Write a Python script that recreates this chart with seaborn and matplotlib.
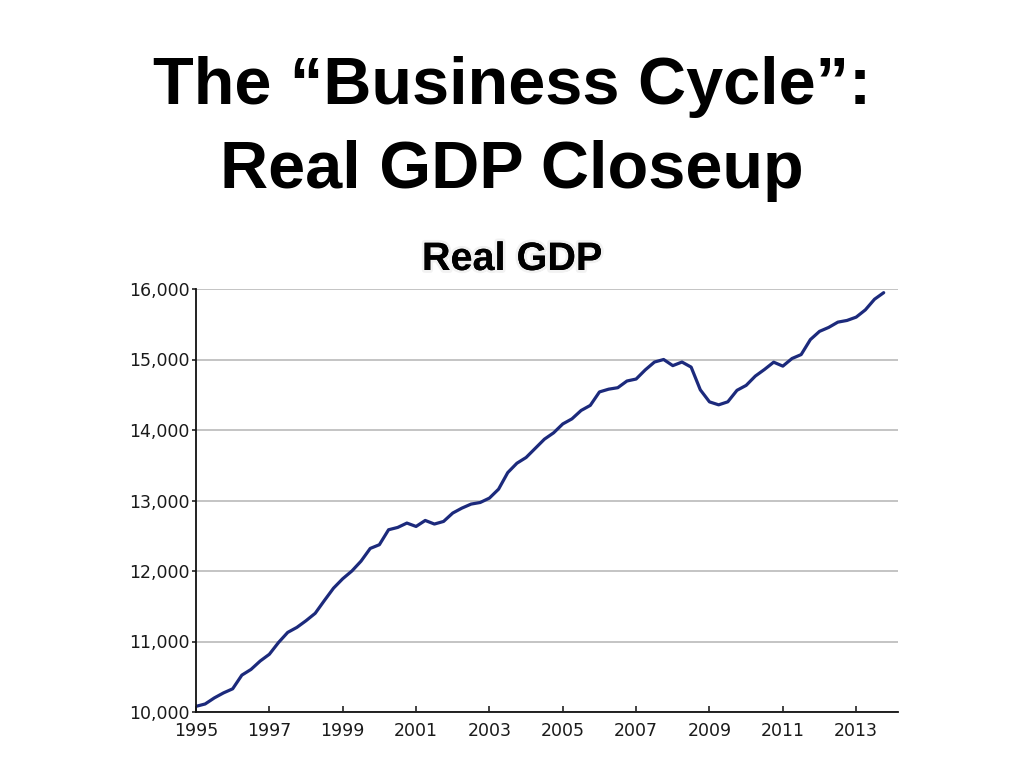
import matplotlib
matplotlib.use("Agg")
import matplotlib.pyplot as plt
import matplotlib.patheffects as pe
import seaborn as sns
import numpy as np
import pandas as pd

# Quarterly real GDP, 1995Q1 - 2013Q4
start_year = 1995
gdp_1995 = [10080, 10114, 10200, 10271]
gdp_1996 = [10329, 10523, 10604, 10723]
gdp_1997 = [10819, 10986, 11129, 11200]
gdp_1998 = [11295, 11400, 11581, 11757]
gdp_1999 = [11890, 12000, 12140, 12320]
gdp_2000 = [12373, 12585, 12618, 12680]
gdp_2001 = [12632, 12717, 12666, 12703]
gdp_2002 = [12822, 12892, 12949, 12972]
gdp_2003 = [13034, 13161, 13396, 13529]
gdp_2004 = [13610, 13740, 13870, 13960]
gdp_2005 = [14086, 14158, 14277, 14349]
gdp_2006 = [14540, 14579, 14600, 14695]
gdp_2007 = [14723, 14853, 14964, 15000]
gdp_2008 = [14913, 14964, 14892, 14570]
gdp_2009 = [14399, 14357, 14400, 14563]
gdp_2010 = [14633, 14765, 14859, 14962]
gdp_2011 = [14906, 15014, 15070, 15282]
gdp_2012 = [15399, 15455, 15530, 15554]
gdp_2013 = [15601, 15704, 15855, 15948]

values = (gdp_1995 + gdp_1996 + gdp_1997 + gdp_1998 + gdp_1999 + gdp_2000 +
          gdp_2001 + gdp_2002 + gdp_2003 + gdp_2004 + gdp_2005 + gdp_2006 +
          gdp_2007 + gdp_2008 + gdp_2009 + gdp_2010 + gdp_2011 + gdp_2012 +
          gdp_2013)
quarters = [start_year + i / 4 for i in range(len(values))]

y_ticks = [10000, 11000, 12000, 13000, 14000, 15000, 16000]
y_tick_labels = ["10,000", "11,000", "12,000", "13,000", "14,000", "15,000", "16,000"]
x_ticks = [1995, 1997, 1999, 2001, 2003, 2005, 2007, 2009, 2011, 2013]
x_tick_labels = [str(y) for y in x_ticks]

title_line1 = "The \u201cBusiness Cycle\u201d:"
title_line2 = "Real GDP Closeup"
chart_title = "Real GDP"

df = pd.DataFrame({"quarter": quarters, "gdp": values})

sns.set_theme(style="white")
plt.rcParams["font.family"] = ["DejaVu Sans"]

fig = plt.figure(figsize=(10.24, 7.68), dpi=100)
fig.patch.set_facecolor("white")
ax = fig.add_axes([196 / 1024, 1 - 712 / 768, (898 - 196) / 1024, (712 - 289) / 768])

sns.lineplot(data=df, x="quarter", y="gdp", ax=ax, color="#1c2a7c", linewidth=2.3)

ax.set_xlim(1995, 2014.14)
ax.set_ylim(10000, 16000)
ax.set_yticks(y_ticks)
ax.set_yticklabels(y_tick_labels)
ax.set_xticks(x_ticks)
ax.set_xticklabels(x_tick_labels)
ax.set_xlabel("")
ax.set_ylabel("")

ax.grid(axis="y", color="#c4c4c4", linewidth=1.4)
ax.grid(axis="x", visible=False)
ax.set_axisbelow(True)
for side in ["top", "right"]:
    ax.spines[side].set_visible(False)
for side in ["left", "bottom"]:
    ax.spines[side].set_visible(True)
    ax.spines[side].set_color("#111111")
    ax.spines[side].set_linewidth(1.3)

ax.tick_params(axis="y", direction="out", length=3, width=1.1, color="#111111",
               labelsize=12.5, labelcolor="#1a1a1a", pad=1.5, left=True)
ax.tick_params(axis="x", direction="in", length=4, width=1.1, color="#111111",
               labelsize=12.5, labelcolor="#1a1a1a", pad=7, bottom=True)

title_font = ["Liberation Sans", "DejaVu Sans"]
fig.text(0.5, 1 - 104 / 768, title_line1, ha="center", va="baseline",
         fontsize=48, fontweight="bold", family=title_font, color="black")
fig.text(0.5, 1 - 188 / 768, title_line2, ha="center", va="baseline",
         fontsize=48, fontweight="bold", family=title_font, color="black")

fig.text(0.5, 1 - 270 / 768, chart_title, ha="center", va="baseline",
         fontsize=28.5, fontweight="bold", family=title_font, color="black",
         path_effects=[pe.SimplePatchShadow(offset=(1, -1.5), shadow_rgbFace="#999999", alpha=0.5),
                       pe.withStroke(linewidth=4, foreground="#f2f2f2"),
                       pe.Normal()])

fig.savefig("out.png", dpi=100, facecolor="white")
